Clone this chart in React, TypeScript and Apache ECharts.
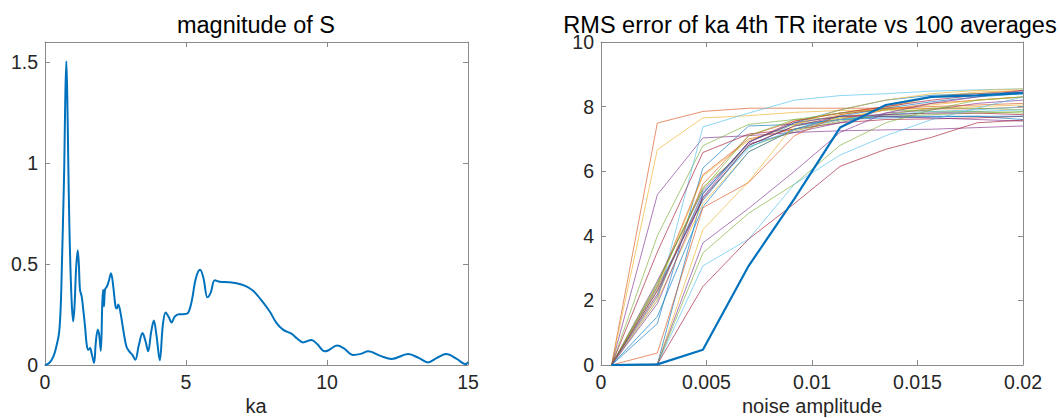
import React, { useEffect, useRef } from "react";
import * as echarts from "echarts";

// Left panel: |S| against ka
const kaValues = [
  0, 0.15, 0.3, 0.4, 0.5, 0.56, 0.6, 0.65, 0.685, 0.72, 0.756, 0.79, 0.826, 0.86, 0.898, 0.95,
  1.0, 1.05, 1.1, 1.16, 1.2, 1.24, 1.3, 1.36, 1.42, 1.48, 1.54, 1.6, 1.65, 1.74, 1.8, 1.87,
  1.92, 1.98, 2.03, 2.06, 2.09, 2.13, 2.2, 2.27, 2.34, 2.42, 2.5, 2.55, 2.6, 2.68, 2.78, 2.89,
  3.0, 3.1, 3.2, 3.33, 3.46, 3.56, 3.66, 3.76, 3.86, 3.95, 4.07, 4.18, 4.28, 4.38, 4.49, 4.6,
  4.75, 4.9, 5.05, 5.2, 5.35, 5.5, 5.62, 5.76, 5.88, 6.02, 6.2, 6.5, 6.79, 7.1, 7.38, 7.65,
  7.97, 8.2, 8.44, 8.74, 8.95, 9.15, 9.45, 9.65, 9.92, 10.04, 10.36, 10.6, 10.93, 11.2, 11.46,
  11.9, 12.29, 12.88, 13.25, 13.58, 13.9, 14.23, 14.6, 14.92, 15,
];
const sMagnitude = [
  0, 0.01, 0.043, 0.09, 0.16, 0.3, 0.5, 0.78, 1.0, 1.33, 1.505, 1.33, 1.0, 0.72, 0.5, 0.3,
  0.216, 0.3, 0.47, 0.568, 0.5, 0.373, 0.34, 0.27, 0.19, 0.1, 0.075, 0.084, 0.06, 0.01, 0.11, 0.175,
  0.15, 0.07, 0.3, 0.373, 0.29, 0.375, 0.39, 0.42, 0.455, 0.39, 0.29, 0.28, 0.3, 0.257, 0.17, 0.09,
  0.065, 0.05, 0.026, 0.1, 0.158, 0.12, 0.068, 0.16, 0.22, 0.15, 0.023, 0.2, 0.26, 0.24, 0.21, 0.24,
  0.252, 0.252, 0.255, 0.315, 0.43, 0.472, 0.43, 0.335, 0.36, 0.42, 0.412, 0.41, 0.405, 0.392, 0.368, 0.325,
  0.265, 0.21, 0.175, 0.155, 0.13, 0.112, 0.124, 0.104, 0.068, 0.072, 0.096, 0.082, 0.05, 0.055, 0.068,
  0.045, 0.03, 0.054, 0.035, 0.013, 0.035, 0.054, 0.03, 0.004, 0.015,
];

// Right panel: RMS error vs noise amplitude
const noiseAmplitude = [0.0005, 0.00267, 0.00483, 0.007, 0.00917, 0.01133, 0.0135, 0.01567, 0.01783, 0.02];

// Individual runs, plotted in colour-cycle order
const runs = [
  [0, 1.28, 6.1, 7.4, 7.45, 7.6, 7.65, 7.68, 7.7, 7.6],
  [0, 7.49, 7.85, 7.95, 7.95, 7.95, 7.95, 7.93, 7.93, 7.98],
  [0, 6.67, 7.65, 7.72, 7.82, 7.88, 7.9, 7.95, 8.0, 8.05],
  [0, 5.27, 7.03, 7.1, 7.2, 7.25, 7.28, 7.3, 7.35, 7.4],
  [0, 4.0, 6.79, 7.45, 7.6, 7.65, 7.7, 7.75, 7.8, 7.85],
  [0, 2.0, 7.37, 7.8, 8.2, 8.34, 8.4, 8.48, 8.52, 8.55],
  [0, 3.5, 6.58, 7.15, 7.3, 7.5, 7.6, 7.62, 7.65, 7.7],

  [0, 2.4, 5.1, 6.8, 7.4, 7.6, 7.7, 7.7, 7.7, 7.7],
  [0, 2.45, 5.89, 7.0, 7.3, 7.6, 7.9, 8.1, 8.2, 8.3],
  [0, 2.35, 5.85, 6.95, 7.45, 7.75, 7.95, 8.3, 8.45, 8.5],
  [0, 2.6, 5.4, 6.85, 7.2, 7.5, 7.8, 7.9, 8.1, 8.2],
  [0, 2.5, 5.5, 6.75, 7.25, 7.55, 7.75, 7.95, 7.95, 7.9],
  [0, 2.3, 5.2, 6.7, 7.5, 7.7, 7.75, 7.8, 7.85, 7.9],
  [0, 2.2, 5.3, 6.9, 7.55, 7.8, 8.0, 8.2, 8.35, 8.45],

  [0, 0.02, 5.3, 6.9, 7.5, 7.9, 8.2, 8.35, 8.4, 8.45],
  [0, 2.1, 5.6, 7.1, 7.55, 7.8, 8.0, 8.3, 8.4, 8.5],
  [0, 2.0, 5.0, 6.6, 7.3, 7.65, 7.9, 8.05, 8.2, 8.3],
  [0, 1.9, 5.2, 6.9, 7.5, 7.7, 7.7, 7.65, 7.6, 7.55],
  [0, 2.55, 5.45, 7.1, 7.6, 7.8, 7.9, 7.85, 7.85, 7.8],
  [0, 2.15, 5.35, 6.75, 7.3, 7.6, 7.75, 7.85, 7.9, 8.0],
  [0, 2.3, 5.15, 6.8, 7.4, 7.7, 7.75, 7.8, 7.8, 7.75],

  [0, 1.5, 4.9, 6.6, 7.3, 7.7, 7.95, 8.15, 8.3, 8.4],
  [0, 0.37, 4.87, 5.65, 7.1, 7.75, 7.95, 8.0, 8.05, 8.1],
  [0, 0.02, 4.19, 5.68, 7.45, 7.9, 8.2, 8.4, 8.5, 8.55],
  [0, 0.02, 3.78, 4.85, 6.0, 7.2, 7.8, 8.1, 8.3, 8.5],
  [0, 0.02, 3.47, 4.7, 5.6, 6.8, 7.5, 7.9, 8.2, 8.3],
  [0, 0.02, 3.07, 3.9, 5.6, 6.5, 7.1, 7.6, 7.95, 8.3],
  [0, 0.02, 2.43, 3.9, 5.0, 6.15, 6.68, 7.05, 7.5, 7.58],
];

// 4th TR iterate averaged over 100 runs
const averaged = [0, 0.02, 0.47, 3.07, 5.15, 7.35, 8.05, 8.3, 8.35, 8.42];

const leftYTicks = [0, 0.5, 1, 1.5];
const leftXTicks = [0, 5, 10, 15];
const rightYTicks = [0, 2, 4, 6, 8, 10];
const rightXTicks = [0, 0.005, 0.01, 0.015, 0.02];

const colorOrder = ["#0072BD", "#D95319", "#EDB120", "#7E2F8E", "#77AC30", "#4DBEEE", "#A2142F"];

const FONT = "'Liberation Sans', Arial, Helvetica, sans-serif";
const AXIS_COLOR = "#8a8a8a";
const TEXT_COLOR = "#262626";

function makeAxis(
  kind: "x" | "y",
  gridIndex: number,
  position: string,
  min: number,
  max: number,
  ticks: number[],
  showLabels: boolean
) {
  return {
    type: "value",
    gridIndex,
    position,
    min,
    max,
    axisLine: { show: true, onZero: false, lineStyle: { color: AXIS_COLOR, width: 1 } },
    axisTick: {
      show: true,
      inside: true,
      length: 5,
      customValues: ticks,
      lineStyle: { color: AXIS_COLOR, width: 1 },
    },
    axisLabel: {
      show: showLabels,
      customValues: ticks,
      color: TEXT_COLOR,
      fontFamily: FONT,
      fontSize: 19.5,
      margin: kind === "x" ? 7 : 7,
      showMaxLabel: true,
      showMinLabel: true,
    },
    splitLine: { show: false },
  };
}

export default function App() {
  const ref = useRef<HTMLDivElement>(null);

  useEffect(() => {
    if (!ref.current) return;
    const chart = echarts.init(ref.current, undefined, { renderer: "svg" });

    const runSeries = runs.map((vals, i) => ({
      type: "line",
      xAxisIndex: 2,
      yAxisIndex: 2,
      data: noiseAmplitude.map((x, j) => [x, vals[j]]),
      showSymbol: false,
      lineStyle: { color: colorOrder[i % colorOrder.length], width: 0.8, opacity: 0.8 },
      z: 2,
    }));

    chart.setOption({
      animation: false,
      backgroundColor: "#ffffff",
      grid: [
        { left: 45, top: 42, width: 423, height: 323 },
        { left: 601, top: 42, width: 422, height: 323 },
      ],
      xAxis: [
        makeAxis("x", 0, "bottom", 0, 15, leftXTicks, true),
        makeAxis("x", 0, "top", 0, 15, leftXTicks, false),
        makeAxis("x", 1, "bottom", 0, 0.02, rightXTicks, true),
        makeAxis("x", 1, "top", 0, 0.02, rightXTicks, false),
      ],
      yAxis: [
        makeAxis("y", 0, "left", 0, 1.6, leftYTicks, true),
        makeAxis("y", 0, "right", 0, 1.6, leftYTicks, false),
        makeAxis("y", 1, "left", 0, 10, rightYTicks, true),
        makeAxis("y", 1, "right", 0, 10, rightYTicks, false),
      ],
      series: [
        {
          type: "line",
          xAxisIndex: 0,
          yAxisIndex: 0,
          data: kaValues.map((k, i) => [k, sMagnitude[i]]),
          showSymbol: false,
          smooth: 0.35,
          lineStyle: { color: "#0072BD", width: 2 },
        },
        ...runSeries,
        {
          type: "line",
          xAxisIndex: 2,
          yAxisIndex: 2,
          data: noiseAmplitude.map((x, j) => [x, averaged[j]]),
          showSymbol: false,
          lineStyle: { color: "#0072BD", width: 2.2 },
          z: 5,
        },
      ],
      graphic: [
        {
          type: "text",
          x: 256,
          y: 25,
          style: {
            text: "magnitude of S",
            fontFamily: FONT,
            fontSize: 23.5,
            fill: "#000000",
            align: "center",
            verticalAlign: "middle",
          },
        },
        {
          type: "text",
          x: 810,
          y: 25,
          style: {
            text: "RMS error of ka 4th TR iterate vs 100 averages",
            fontFamily: FONT,
            fontSize: 23.5,
            fill: "#000000",
            align: "center",
            verticalAlign: "middle",
          },
        },
        {
          type: "text",
          x: 256,
          y: 406,
          style: {
            text: "ka",
            fontFamily: FONT,
            fontSize: 20,
            fill: TEXT_COLOR,
            align: "center",
            verticalAlign: "middle",
          },
        },
        {
          type: "text",
          x: 812,
          y: 406,
          style: {
            text: "noise amplitude",
            fontFamily: FONT,
            fontSize: 20,
            fill: TEXT_COLOR,
            align: "center",
            verticalAlign: "middle",
          },
        },
      ],
    });

    return () => chart.dispose();
  }, []);

  return (
    <div
      ref={ref}
      style={{ position: "fixed", left: 0, top: 0, width: 1059, height: 418, background: "#fff" }}
    />
  );
}
